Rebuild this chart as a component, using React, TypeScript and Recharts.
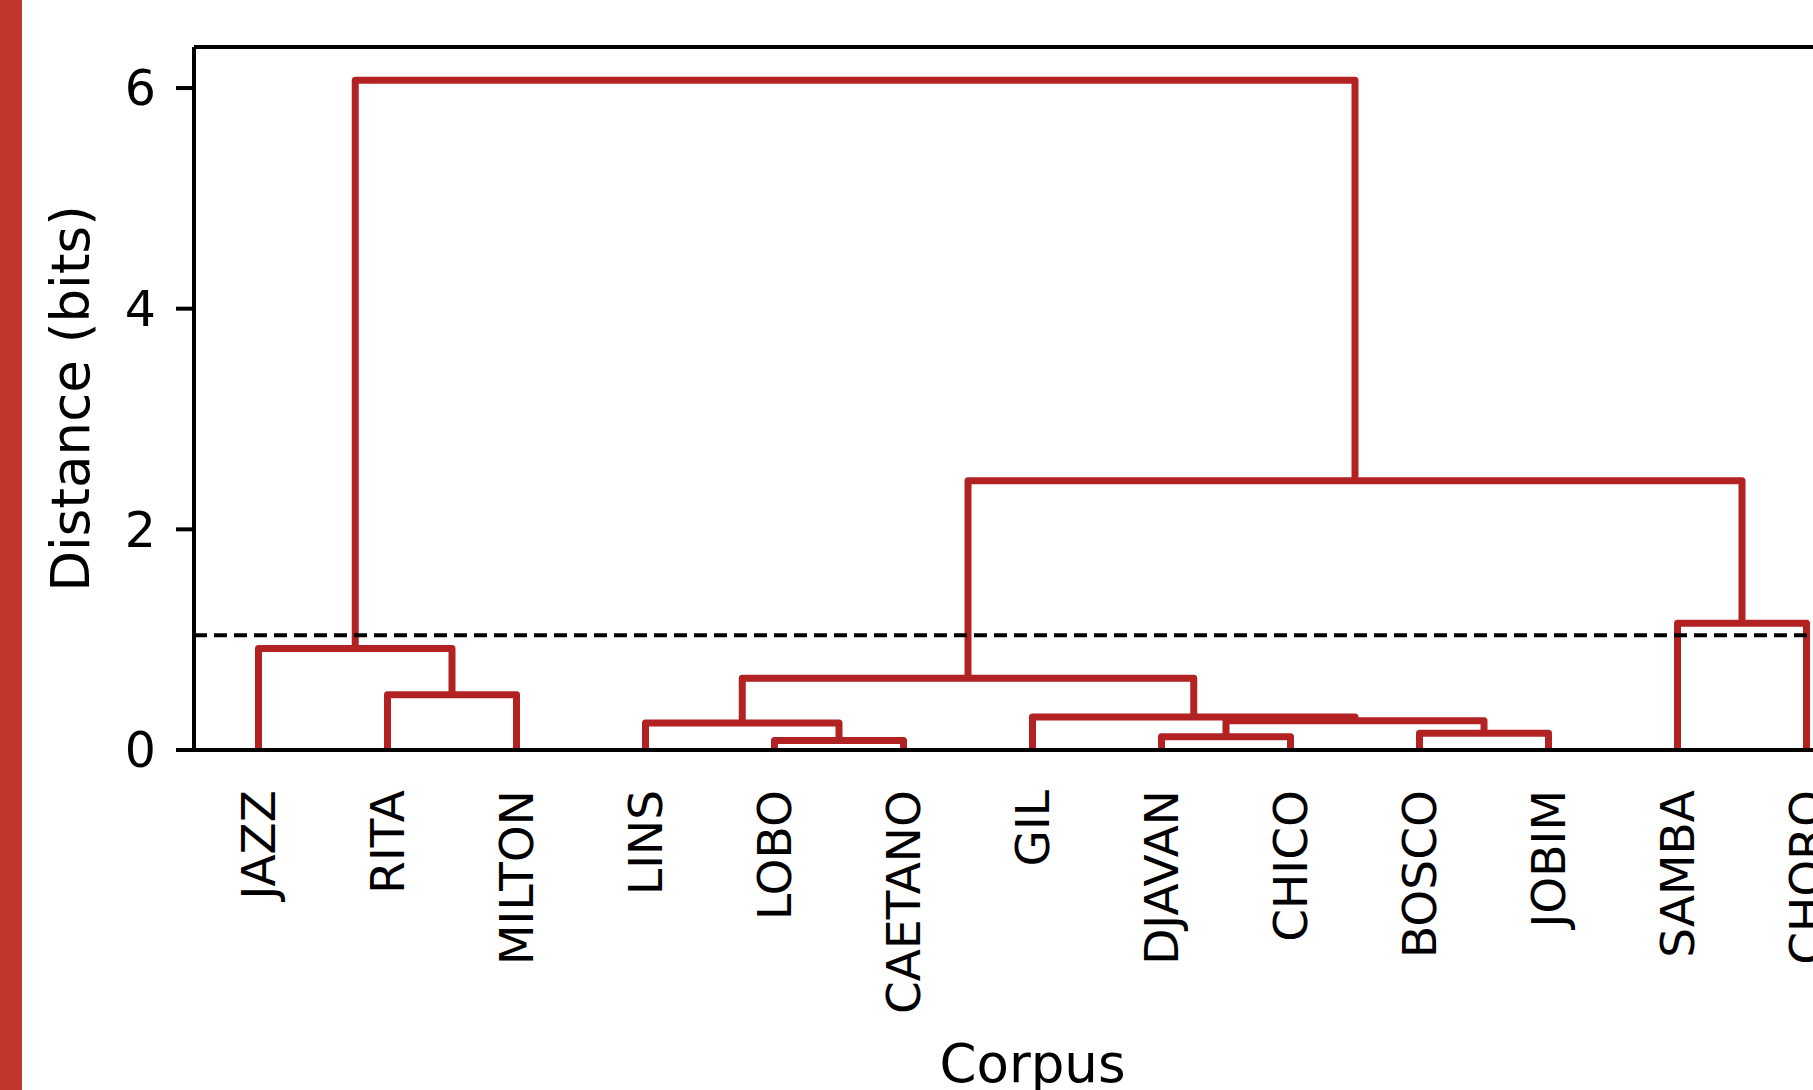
// Dendrogram of corpus distances — drawn as Recharts line series, one per merge
import { LineChart, Line, XAxis, YAxis, ReferenceLine } from 'recharts';

const leafLabels = [
  'JAZZ', 'RITA', 'MILTON', 'LINS', 'LOBO', 'CAETANO', 'GIL',
  'DJAVAN', 'CHICO', 'BOSCO', 'JOBIM', 'SAMBA', 'CHORO',
];

// scipy-style linkage: ids 0..12 are leaves, each merge creates id 13, 14, ...
const mergeLeft = [1, 0, 4, 3, 7, 9, 17, 6, 16, 11, 21, 14];
const mergeRight = [2, 13, 5, 15, 8, 10, 18, 19, 20, 12, 22, 23];
const mergeHeight = [0.5, 0.92, 0.085, 0.245, 0.12, 0.152, 0.265, 0.3, 0.65, 1.15, 2.44, 6.07];

const cutHeight = 1.04;
const yTicks = [0, 2, 4, 6];
const yMax = 6.372;

const RED = '#b22222';
const FONT = '"DejaVu Sans", sans-serif';

// leaf i sits at 5 + 10*i, like scipy's dendrogram
const leafPos = leafLabels.map((_, i) => 5 + i * 10);
const xMax = leafLabels.length * 10;

function buildLinks() {
  const pos: number[] = [...leafPos];
  const hgt: number[] = leafLabels.map(() => 0);
  return mergeHeight.map((h, k) => {
    const a = mergeLeft[k];
    const b = mergeRight[k];
    const pts = [
      { x: pos[a], y: hgt[a] },
      { x: pos[a], y: h },
      { x: pos[b], y: h },
      { x: pos[b], y: hgt[b] },
    ];
    pos.push((pos[a] + pos[b]) / 2);
    hgt.push(h);
    return pts;
  });
}

const links = buildLinks();

function LeafTick(props: any) {
  const { x, y, payload } = props;
  const idx = leafPos.indexOf(payload.value);
  return (
    <text
      x={x}
      y={y}
      transform={`rotate(-90, ${x}, ${y})`}
      textAnchor="end"
      dy="0.36em"
      fontSize={47}
      fontFamily={FONT}
      fill="#000"
    >
      {leafLabels[idx]}
    </text>
  );
}

export default function App() {
  return (
    <div
      style={{
        position: 'fixed',
        left: 0,
        top: 0,
        width: 1813,
        height: 1090,
        overflow: 'hidden',
        background: '#fff',
      }}
    >
      <LineChart
        width={1880}
        height={1090}
        margin={{ top: 47, right: 9, bottom: 0, left: 0 }}
        style={{ fontFamily: FONT }}
      >
        <XAxis
          type="number"
          dataKey="x"
          domain={[0, xMax]}
          ticks={leafPos}
          interval={0}
          allowDataOverflow
          height={340}
          tickLine={false}
          tickSize={0}
          tickMargin={40}
          tick={<LeafTick />}
          axisLine={{ stroke: '#000', strokeWidth: 4 }}
          label={{
            value: 'Corpus',
            position: 'insideBottom',
            offset: 8,
            fontSize: 53,
            fill: '#000',
            fontFamily: FONT,
          }}
        />
        <YAxis
          type="number"
          domain={[0, yMax]}
          ticks={yTicks}
          allowDataOverflow
          width={194}
          tickSize={18}
          tickMargin={20}
          tickLine={{ stroke: '#000', strokeWidth: 4 }}
          axisLine={{ stroke: '#000', strokeWidth: 4 }}
          tick={{ fontSize: 49, fill: '#000', fontFamily: FONT }}
          label={{
            value: 'Distance (bits)',
            angle: -90,
            position: 'insideLeft',
            offset: 70,
            fontSize: 53,
            fill: '#000',
            fontFamily: FONT,
            style: { textAnchor: 'middle' },
          }}
        />
        {links.map((pts, i) => (
          <Line
            key={i}
            data={pts}
            dataKey="y"
            type="linear"
            stroke={RED}
            strokeWidth={7}
            strokeLinejoin="round"
            dot={false}
            activeDot={false}
            isAnimationActive={false}
          />
        ))}
        <ReferenceLine y={yMax} stroke="#000" strokeWidth={4} />
        <ReferenceLine y={cutHeight} stroke="#000" strokeWidth={4} strokeDasharray="13 7" />
      </LineChart>
      <div
        style={{
          position: 'absolute',
          left: 0,
          top: 0,
          width: 22,
          height: 1090,
          background: '#c2342e',
        }}
      />
    </div>
  );
}
